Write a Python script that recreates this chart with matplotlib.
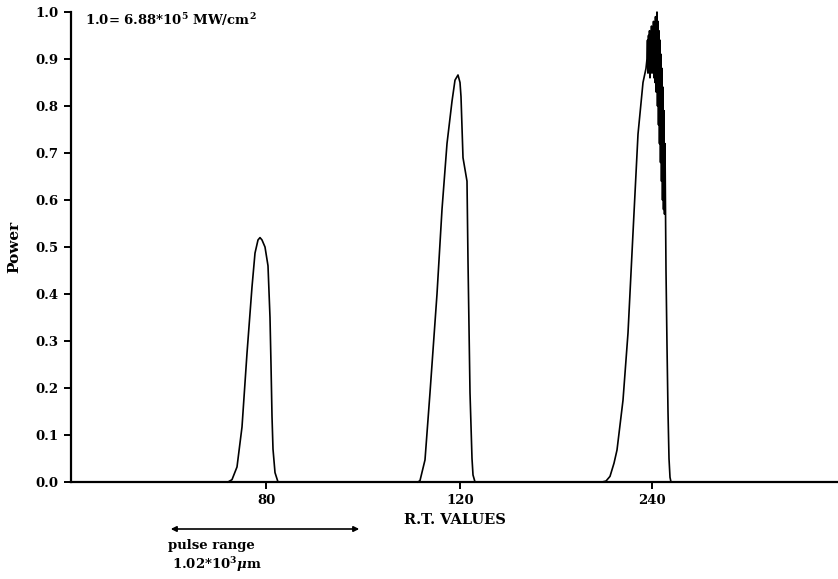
import numpy as np
import matplotlib
matplotlib.use('Agg')
import matplotlib.pyplot as plt

plt.rcParams['font.family'] = 'DejaVu Serif'
plt.rcParams['font.weight'] = 'bold'
plt.rcParams['mathtext.fontset'] = 'dejavuserif'

# positions along the R.T. axis (plot units), power normalised to 1.0
pulse1_x = [228, 232, 237, 242, 247, 252, 255, 258, 260, 262, 265, 268, 270, 271, 272, 273, 275, 278]
pulse1_y = [0, 0.005, 0.032, 0.117, 0.274, 0.415, 0.487, 0.515, 0.52, 0.515, 0.50, 0.46, 0.35, 0.25, 0.14, 0.07, 0.02, 0]

pulse2_x = [418, 420, 425, 430, 437, 442, 447, 452, 455, 458, 460, 461, 463, 465, 467, 468, 469, 470, 472, 473, 475]
pulse2_y = [0, 0.003, 0.047, 0.19, 0.40, 0.58, 0.72, 0.81, 0.855, 0.866, 0.85, 0.82, 0.69, 0.665, 0.64, 0.47, 0.33, 0.19, 0.05, 0.015, 0]

pulse3_x = [602, 606, 610, 614, 617, 623, 628, 633, 638, 643, 646, 647,
            647.5, 648, 648.5, 649, 649.5, 650, 650.5, 651, 651.5, 652, 652.5,
            653, 653.5, 654, 654.5, 655, 655.5, 656, 656.5, 657, 657.5,
            658, 658.5, 659, 659.5, 660, 660.5, 661, 661.5, 662, 662.5,
            663, 663.5, 664, 664.5, 665, 665.5, 666, 667, 668, 669, 670, 671]
pulse3_y = [0, 0.002, 0.012, 0.04, 0.068, 0.174, 0.317, 0.53, 0.74, 0.85, 0.88, 0.90,
            0.94, 0.87, 0.95, 0.88, 0.96, 0.86, 0.95, 0.89, 0.97, 0.87, 0.96,
            0.88, 0.98, 0.86, 0.97, 0.85, 0.99, 0.83, 0.98, 1.0, 0.80,
            0.98, 0.76, 0.96, 0.72, 0.94, 0.68, 0.91, 0.64, 0.88, 0.60,
            0.84, 0.58, 0.79, 0.57, 0.72, 0.58, 0.45, 0.29, 0.15, 0.05, 0.01, 0]

tick_pos = [266, 460, 652]
tick_labels = ['80', '120', '240']
y_ticks = [0.0, 0.1, 0.2, 0.3, 0.4, 0.5, 0.6, 0.7, 0.8, 0.9, 1.0]

f = plt.figure(figsize=(8.38, 5.79), dpi=100)
ax = f.add_axes([71/838, 97/579, 767/838, 470/579])

for px, py in [(pulse1_x, pulse1_y), (pulse2_x, pulse2_y), (pulse3_x, pulse3_y)]:
    ax.plot(px, py, color='k', lw=1.2, clip_on=False)

ax.set_xlim(71, 838)
ax.set_ylim(0, 1.0)
ax.spines['top'].set_visible(False)
ax.spines['right'].set_visible(False)
ax.spines['left'].set_linewidth(1.6)
ax.spines['bottom'].set_linewidth(1.6)

ax.set_xticks(tick_pos)
ax.set_xticklabels(tick_labels)
ax.set_yticks(y_ticks)
ax.set_yticklabels(['{0:.1f}'.format(v) for v in y_ticks])
ax.tick_params(axis='both', direction='out', length=5, width=1.4, labelsize=9.5, pad=4)

ax.set_xlabel('R.T. VALUES', fontsize=10.5, fontweight='bold', labelpad=4)
ax.set_ylabel('Power', fontsize=11, fontweight='bold', labelpad=10)

f.text(85/838, 1 - 20/579, r'1.0= 6.88*10$^{\mathbf{5}}$ MW/cm$^{\mathbf{2}}$',
       fontsize=9.5, fontweight='bold', va='center', ha='left')

# pulse range arrow
f.add_artist(matplotlib.patches.FancyArrowPatch(
    (168/838, 1 - 529/579), (362/838, 1 - 529/579), transform=f.transFigure,
    arrowstyle='<|-|>', mutation_scale=8, color='k', lw=1.2))
f.text(168/838, 1 - 546/579, 'pulse range', fontsize=9.5, fontweight='bold', va='center', ha='left')
f.text(172/838, 1 - 565/579, r'1.02*10$^{\mathbf{3}}\mu$m', fontsize=9.5, fontweight='bold',
       va='center', ha='left')

f.savefig('out.png', dpi=100)
